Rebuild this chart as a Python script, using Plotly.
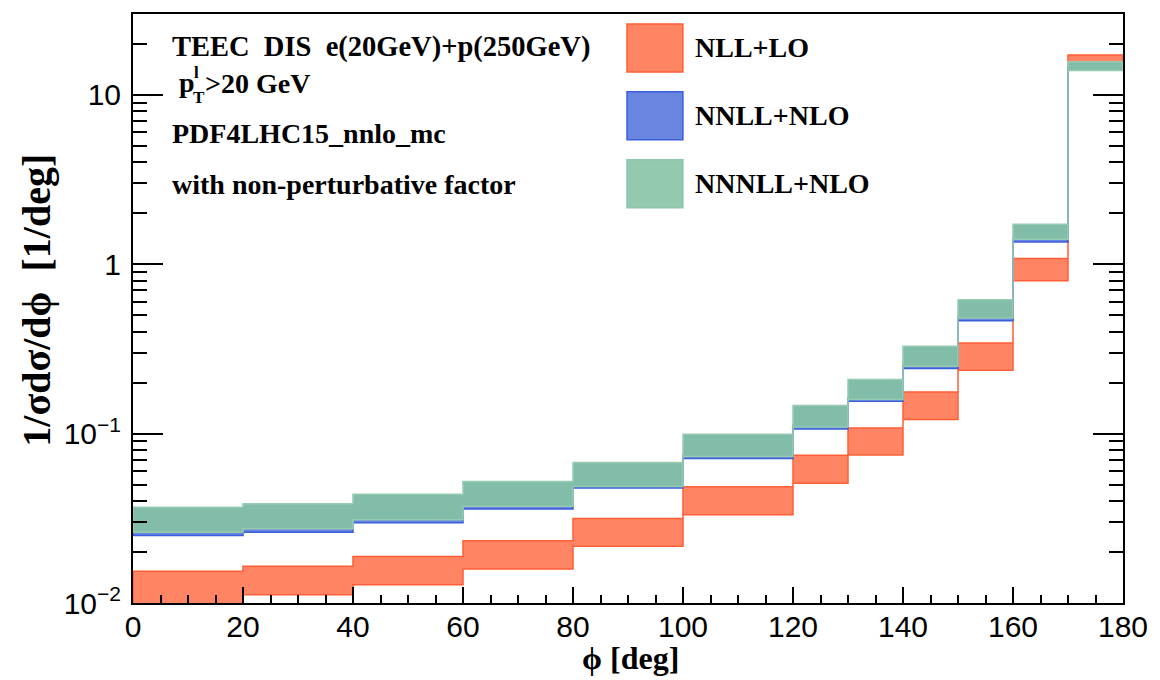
import plotly.graph_objects as go

# Bin edges in phi [deg]
edges = [0, 20, 40, 60, 80, 100, 120, 130, 140, 150, 160, 170, 180]

# Uncertainty bands (lower / upper edge per bin) of 1/sigma dsigma/dphi [1/deg]
nll_lo_low = [0.0098, 0.0112, 0.0128, 0.0159, 0.0216, 0.0332, 0.0510, 0.0748, 0.121, 0.237, 0.798, 15.0]
nll_lo_high = [0.0154, 0.0165, 0.0188, 0.0233, 0.0315, 0.0485, 0.0745, 0.108, 0.176, 0.343, 1.079, 17.2]

nnll_nlo_low = [0.0250, 0.0262, 0.0298, 0.0359, 0.0477, 0.0713, 0.1064, 0.155, 0.242, 0.464, 1.353, 14.0]
nnll_nlo_high = [0.0270, 0.0282, 0.0318, 0.0384, 0.0505, 0.0750, 0.1120, 0.163, 0.256, 0.492, 1.420, 14.6]

nnnll_nlo_low = [0.0262, 0.0274, 0.0310, 0.0372, 0.0488, 0.0732, 0.1093, 0.159, 0.250, 0.481, 1.403, 13.9]
nnnll_nlo_high = [0.0367, 0.0385, 0.0438, 0.0522, 0.0675, 0.0991, 0.1467, 0.209, 0.328, 0.617, 1.719, 15.7]

series_names = ["NLL+LO", "NNLL+NLO", "NNNLL+NLO"]
fill_colors = ["#FF8463", "#6A85E0", "#82BDA9"]
edge_colors = ["#FF5E36", "#3A5FDB", "#96CBB2"]
legend_fill = ["#FF8463", "#6A85E0", "#92C9AF"]
legend_edge = ["#FF5E36", "#3A5FDB", "#8CC6AA"]

# Tick labels
x_ticks = [0, 20, 40, 60, 80, 100, 120, 140, 160, 180]
y_ticks = [0.01, 0.1, 1, 10]
y_tick_text = ["10<sup>\u22122</sup>", "10<sup>\u22121</sup>", "1", "10"]

W, H = 1160, 680
L, R, T, B = 133, 1125, 13, 603
SERIF = "Liberation Serif, Times New Roman, serif"
SANS = "Liberation Sans, Arial, Helvetica, sans-serif"


def px(x):
    return (x - L) / (R - L)


def py(y):
    return (B - y) / (B - T)


def band_polygon(lo, hi):
    xs, ys = [], []
    for i in range(len(hi)):
        xs += [edges[i], edges[i + 1]]
        ys += [hi[i], hi[i]]
    for i in reversed(range(len(lo))):
        xs += [edges[i + 1], edges[i]]
        ys += [lo[i], lo[i]]
    xs.append(xs[0])
    ys.append(ys[0])
    return xs, ys


fig = go.Figure()
bands = [(nll_lo_low, nll_lo_high), (nnll_nlo_low, nnll_nlo_high), (nnnll_nlo_low, nnnll_nlo_high)]
for (lo, hi), name, fc, ec in zip(bands, series_names, fill_colors, edge_colors):
    xs, ys = band_polygon(lo, hi)
    fig.add_trace(go.Scatter(
        x=xs, y=ys, mode="lines", fill="toself", fillcolor=fc,
        line=dict(color=ec, width=1.5), name=name, showlegend=False,
        hoverinfo="skip",
    ))

# Decade subdivisions for the minor ticks of the log axis
minor_vals = [m * 10 ** e for e in range(-2, 2) for m in range(2, 10) if m * 10 ** e < 30]

fig.update_xaxes(
    range=[0, 180], tickvals=x_ticks, ticks="inside", ticklen=16, tickwidth=1.5,
    tickcolor="black", showline=True, linecolor="black", linewidth=2, mirror=True,
    showgrid=False, zeroline=False, ticklabelstandoff=-4,
    tickfont=dict(family=SANS, size=30, color="black"),
    minor=dict(ticks="inside", dtick=5, ticklen=8, tickwidth=1.5, tickcolor="black", showgrid=False),
)
fig.update_yaxes(
    type="log", range=[-2, 1.4771], tickvals=y_ticks, ticktext=y_tick_text,
    ticks="inside", ticklen=30, tickwidth=1.5, tickcolor="black",
    showline=True, linecolor="black", linewidth=2, mirror="ticks",
    showgrid=False, zeroline=False, ticklabelstandoff=4,
    tickfont=dict(family=SANS, size=30, color="black"),
    minor=dict(ticks="inside", tickmode="array", tickvals=minor_vals, ticklen=14,
               tickwidth=1.5, tickcolor="black", showgrid=False),
)

annotations = []
shapes = []


def text(x, y, s, size=28, anchor="left", angle=0, family=SERIF, weight="bold"):
    annotations.append(dict(
        x=px(x), y=py(y), xref="paper", yref="paper", text=s, showarrow=False,
        xanchor=anchor, yanchor="middle", textangle=angle,
        font=dict(family=family, size=size, color="black", weight=weight),
    ))


# Info text
text(170, 46, "TEEC  DIS  e(20GeV)+p(250GeV)", size=28.5)
text(177, 82, "p")
text(192, 72, "l", size=17)
text(191, 97, "T", size=17)
text(203, 83, "&gt;20 GeV")
text(170, 133, "PDF4LHC15_nnlo_mc")
text(170, 184, "with non-perturbative factor")

# Legend
legend_rows = [47, 115, 183]
for yc, name, fc, ec in zip(legend_rows, series_names, legend_fill, legend_edge):
    shapes.append(dict(
        type="rect", xref="paper", yref="paper",
        x0=px(628), x1=px(684), y0=py(yc - 24), y1=py(yc + 24),
        fillcolor=fc, line=dict(color=ec, width=1.5), layer="above",
    ))
    text(694, yc, name)

# Axis titles
text(632, 658, "\u03d5 [deg]", size=32, anchor="center")
text(36, 300, "1/\u03c3d\u03c3/d\u03d5  [1/deg]", size=40, anchor="center", angle=-90)

fig.update_layout(
    width=W, height=H,
    margin=dict(l=L, r=W - R, t=T, b=H - B, pad=0),
    paper_bgcolor="white", plot_bgcolor="white",
    showlegend=False, annotations=annotations, shapes=shapes,
)

fig.write_html("out.html")
